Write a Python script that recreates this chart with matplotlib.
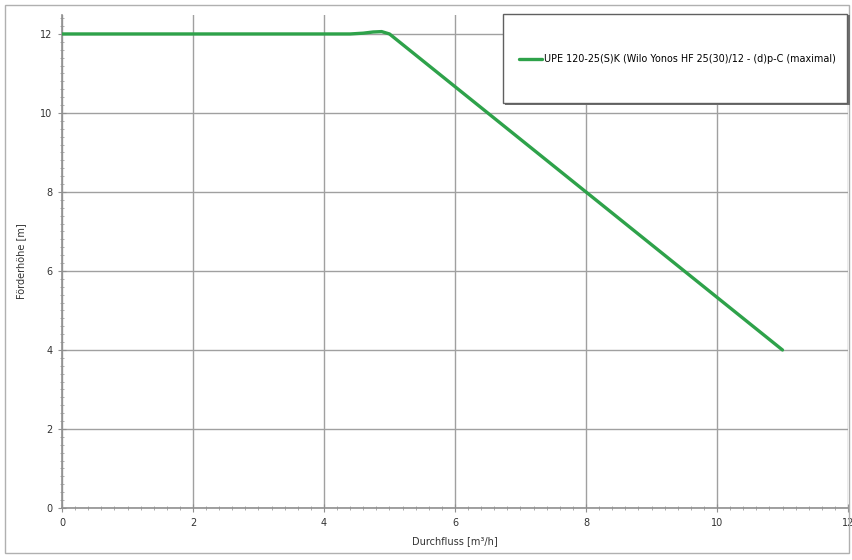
import matplotlib
matplotlib.use("Agg")
import matplotlib.pyplot as plt
from matplotlib.patches import Rectangle
from matplotlib.ticker import MultipleLocator

flow = [0.0, 4.4, 4.6, 4.75, 4.88, 5.0, 11.0]
head = [12.0, 12.0, 12.02, 12.05, 12.06, 12.0, 4.0]
series_label = "UPE 120-25(S)K (Wilo Yonos HF 25(30)/12 - (d)p-C (maximal)"
x_ticks = [0, 2, 4, 6, 8, 10, 12]
y_ticks = [0, 2, 4, 6, 8, 10, 12]

fig = plt.figure(figsize=(8.53, 5.60), dpi=100)
ax = fig.add_axes([62/853, 52/560, (848-62)/853, (508-15)/560])

ax.plot(flow, head, color="#2ea24a", lw=2.4, solid_joinstyle="round", solid_capstyle="round",
        label=series_label, zorder=3)

ax.set_xlim(0, 12)
ax.set_ylim(0, 12.48)
ax.set_xticks(x_ticks)
ax.set_yticks(y_ticks)
ax.xaxis.set_minor_locator(MultipleLocator(0.2))
ax.yaxis.set_minor_locator(MultipleLocator(0.2))
ax.grid(True, which="major", color="#a0a0a0", lw=1.0)
ax.set_axisbelow(True)
for s in ["top", "right"]:
    ax.spines[s].set_visible(False)
for s in ["left", "bottom"]:
    ax.spines[s].set_color("#909090")
    ax.spines[s].set_linewidth(1.2)
ax.tick_params(which="major", direction="inout", length=6, color="#909090", labelsize=7, labelcolor="#333333", pad=4)
ax.tick_params(which="minor", direction="inout", length=3, color="#a0a0a0")
ax.set_xlabel("Durchfluss [m³/h]", fontsize=7, color="#333333", labelpad=6)
ax.set_ylabel("Förderhöhe [m]", fontsize=7, color="#333333", labelpad=10)

leg = ax.legend(loc="center left", frameon=False, fontsize=6.9, handlelength=2.4,
                handletextpad=0.2, borderaxespad=0)
# legend box
fig.patches.append(Rectangle((505/853, 1-105/560), 345/853, 90/560, transform=fig.transFigure,
                             facecolor="#707070", edgecolor="none", zorder=4))
fig.patches.append(Rectangle((503/853, 1-103/560), 344/853, 89/560, transform=fig.transFigure,
                             facecolor="white", edgecolor="#606060", lw=1.0, zorder=5))
leg.set_zorder(6)
leg.set_bbox_to_anchor((515/853, 1-59/560), transform=fig.transFigure)
fig.add_artist(leg)

# outer frame
fig.patches.append(Rectangle((5/853, 1-553/560), 844/853, 548/560, transform=fig.transFigure,
                             facecolor="none", edgecolor="#b0b0b0", lw=1.0, zorder=0))

fig.savefig("out.png", dpi=100)
